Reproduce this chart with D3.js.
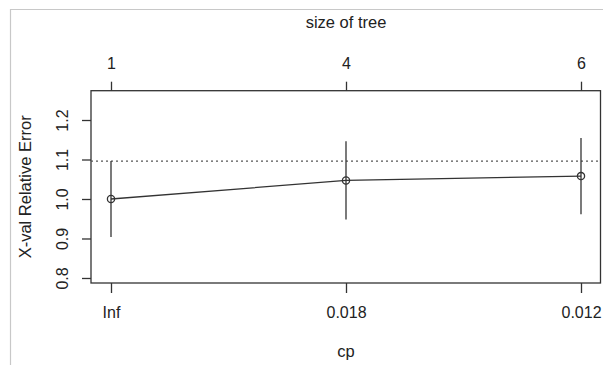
<!DOCTYPE html>
<html>
<head>
<meta charset="utf-8">
<script src="https://cdn.jsdelivr.net/npm/d3@7"></script>
<style>
  html, body { margin: 0; padding: 0; background: #fff; }
  svg { display: block; }
  text { font-family: "Liberation Sans", Arial, sans-serif; fill: #222; }
</style>
</head>
<body>
<svg id="chart" width="603" height="365"></svg>
<script>
// ---- data ----
const cpLabels = ["Inf", "0.018", "0.012"];
const treeSizes = ["1", "4", "6"];
const xerror = [1.000, 1.047, 1.058];
const xstd = [0.096, 0.099, 0.0965];
const yTicks = [0.8, 0.9, 1.0, 1.1, 1.2];

const svg = d3.select("#chart");
const W = 603, H = 365;
const FS = 16;

// frame border of screenshot
svg.append("line").attr("x1", 10).attr("x2", W).attr("y1", 9.5).attr("y2", 9.5)
  .attr("stroke", "#c8c8c8").attr("stroke-width", 1.2);
svg.append("line").attr("x1", 10.5).attr("x2", 10.5).attr("y1", 9).attr("y2", H)
  .attr("stroke", "#c8c8c8").attr("stroke-width", 1.2);

const box = { left: 91, right: 600.5, top: 90.7, bottom: 283 };

const x = d3.scalePoint().domain(d3.range(cpLabels.length)).range([111, 581]);
const y = d3.scaleLinear().domain([0.7873, 1.2742]).range([box.bottom, box.top]);

const ink = "#333";

// box
svg.append("rect")
  .attr("x", box.left).attr("y", box.top)
  .attr("width", box.right - box.left).attr("height", box.bottom - box.top)
  .attr("fill", "none").attr("stroke", ink).attr("stroke-width", 1.3);

// bottom axis (cp)
const bottomAxis = d3.axisBottom(x).tickSize(10).tickPadding(14)
  .tickFormat(i => cpLabels[i]);
const gB = svg.append("g").attr("transform", `translate(0,${box.bottom})`).call(bottomAxis);
gB.select(".domain").remove();
gB.selectAll("line").attr("stroke", ink).attr("stroke-width", 1.3);
gB.selectAll("text").attr("font-size", FS).style("font-family", "Liberation Sans, Arial, sans-serif").attr("fill", "#222");

// top axis (size of tree)
const topAxis = d3.axisTop(x).tickSize(9).tickPadding(13)
  .tickFormat(i => treeSizes[i]);
const gT = svg.append("g").attr("transform", `translate(0,${box.top})`).call(topAxis);
gT.select(".domain").remove();
gT.selectAll("line").attr("stroke", ink).attr("stroke-width", 1.3);
gT.selectAll("text").attr("font-size", FS).style("font-family", "Liberation Sans, Arial, sans-serif").attr("fill", "#222");

// left axis
const leftAxis = d3.axisLeft(y).tickValues(yTicks).tickSize(9).tickFormat(d3.format(".1f"));
const gL = svg.append("g").attr("transform", `translate(${box.left},0)`).call(leftAxis);
gL.select(".domain").remove();
gL.selectAll("line").attr("stroke", ink).attr("stroke-width", 1.3);
gL.selectAll("text")
  .attr("font-size", FS).style("font-family", "Liberation Sans, Arial, sans-serif").attr("fill", "#222")
  .attr("x", null).attr("dy", null)
  .attr("text-anchor", "middle")
  .attr("transform", "translate(-23.5,0) rotate(-90)");

// titles
svg.append("text").attr("x", 346).attr("y", 28).attr("text-anchor", "middle")
  .attr("font-size", FS + 0.5).text("size of tree");
svg.append("text").attr("x", 346).attr("y", 357).attr("text-anchor", "middle")
  .attr("font-size", FS + 0.5).text("cp");
svg.append("text").attr("transform", `translate(30.5,${(box.top + box.bottom) / 2}) rotate(-90)`)
  .attr("text-anchor", "middle").attr("font-size", FS + 0.5).text("X-val Relative Error");

// threshold dotted line
const minIdx = d3.minIndex(xerror);
const thr = xerror[minIdx] + xstd[minIdx];
svg.append("line")
  .attr("x1", box.left).attr("x2", box.right)
  .attr("y1", y(thr)).attr("y2", y(thr))
  .attr("stroke", "#555").attr("stroke-width", 1.2).attr("stroke-dasharray", "2,3");

// error bars
const idx = d3.range(xerror.length);
svg.append("g").selectAll("line").data(idx).join("line")
  .attr("x1", i => x(i)).attr("x2", i => x(i))
  .attr("y1", i => y(xerror[i] - xstd[i])).attr("y2", i => y(xerror[i] + xstd[i]))
  .attr("stroke", ink).attr("stroke-width", 1.3);

// connecting line
svg.append("path")
  .datum(idx)
  .attr("d", d3.line().x(i => x(i)).y(i => y(xerror[i])))
  .attr("fill", "none").attr("stroke", ink).attr("stroke-width", 1.3);

// points
svg.append("g").selectAll("circle").data(idx).join("circle")
  .attr("cx", i => x(i)).attr("cy", i => y(xerror[i])).attr("r", 3.6)
  .attr("fill", "none").attr("stroke", ink).attr("stroke-width", 1.3);
</script>
</body>
</html>
